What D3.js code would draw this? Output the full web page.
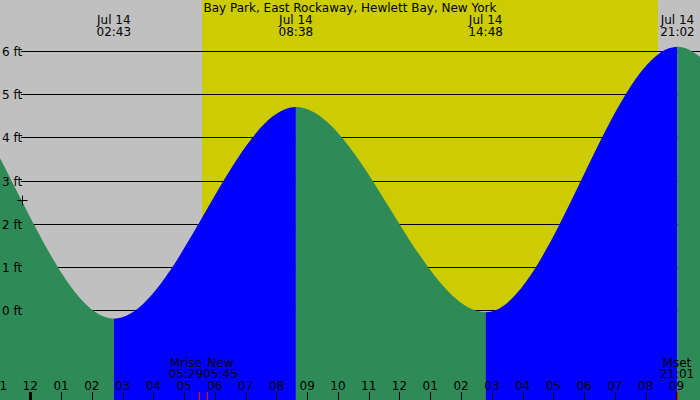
<!DOCTYPE html>
<html>
<head>
<meta charset="utf-8">
<script src="https://cdn.jsdelivr.net/npm/d3@7"></script>
<style>
  body { margin: 0; }
  svg { display: block; }
  text { font-family: "DejaVu Sans", sans-serif; font-size: 12px; fill: #000; }
</style>
</head>
<body>
<div id="chart"></div>
<script>
// data
var title = "Bay Park, East Rockaway, Hewlett Bay, New York";
// high / low tides (first two and last two are off-screen estimates)
var tideTimes = ["2024-07-13 14:05", "2024-07-13 20:25", "2024-07-14 02:43", "2024-07-14 08:38",
                 "2024-07-14 14:48", "2024-07-14 21:02", "2024-07-15 03:20", "2024-07-15 09:30"];
var tideHeights = [-0.1, 5.7, -0.2, 4.7, -0.05, 6.1, -0.3, 4.8];
var sunTimes = ["2024-07-14 05:35", "2024-07-14 20:24"];
var moonNames = ["Mrise", "New", "Mset"];
var moonTimes = ["2024-07-14 05:29", "2024-07-14 05:45", "2024-07-14 21:01"];
var heightTicks = [0, 1, 2, 3, 4, 5, 6];
var viewRange = ["2024-07-13 23:01", "2024-07-14 21:46"];
var markerTime = "2024-07-13 23:44", markerHeight = 2.55;

var width = 700, height = 400;
var parse = d3.timeParse("%Y-%m-%d %H:%M");
var fmtDay = d3.timeFormat("%b %d"), fmtHM = d3.timeFormat("%H:%M"), fmtHour = d3.timeFormat("%I");

var tides = tideTimes.map(function(t, i) { return {date: parse(t), h: tideHeights[i]}; });
var start = parse(viewRange[0]), end = parse(viewRange[1]);

var x = d3.scaleTime().domain([start, end]).range([0, width]);
var y = d3.scaleLinear().domain([0, 6]).range([310, 51]);

var svg = d3.select("#chart").append("svg")
    .attr("width", width)
    .attr("height", height);

// night / day background
svg.append("rect").attr("width", width).attr("height", height).attr("fill", "#c0c0c0");
svg.append("rect")
    .attr("x", x(parse(sunTimes[0])))
    .attr("width", x(parse(sunTimes[1])) - x(parse(sunTimes[0])))
    .attr("height", height)
    .attr("fill", "#cccc00");

// foot lines
svg.append("g").selectAll("line")
    .data(heightTicks)
    .enter().append("line")
    .attr("x1", 21).attr("x2", width)
    .attr("y1", function(d) { return Math.round(y(d)) + 0.5; })
    .attr("y2", function(d) { return Math.round(y(d)) + 0.5; })
    .attr("stroke", "#000");

// tide area, cut into rising (blue) and falling (green) pieces
var area = d3.area()
    .x(function(d) { return x(d.date); })
    .y0(height)
    .y1(function(d) { return y(d.h); })
    .curve(d3.curveMonotoneX);

var defs = svg.append("defs");
tides.slice(0, -1).forEach(function(d, i) {
    var next = tides[i + 1];
    defs.append("clipPath").attr("id", "seg" + i)
        .append("rect")
        .attr("x", x(d.date))
        .attr("width", x(next.date) - x(d.date))
        .attr("y", 0).attr("height", height);
    svg.append("path")
        .datum(tides)
        .attr("d", area)
        .attr("clip-path", "url(#seg" + i + ")")
        .attr("fill", next.h > d.h ? "#0000ff" : "#2e8b57");
});

// foot labels
svg.append("g").selectAll("text")
    .data(heightTicks)
    .enter().append("text")
    .attr("x", 2)
    .attr("y", function(d) { return y(d) + 5; })
    .text(function(d) { return d + " ft"; });

// tide time labels at top
var shown = tides.filter(function(d) { return d.date >= start && d.date <= end; });
var tideLabels = svg.append("g").selectAll("text")
    .data(shown)
    .enter().append("text")
    .attr("text-anchor", "middle");
tideLabels.append("tspan").attr("x", function(d) { return x(d.date); }).attr("y", 24).text(function(d) { return fmtDay(d.date); });
tideLabels.append("tspan").attr("x", function(d) { return x(d.date); }).attr("y", 36).text(function(d) { return fmtHM(d.date); });

svg.append("text")
    .attr("x", width / 2).attr("y", 12)
    .attr("text-anchor", "middle")
    .text(title);

// hour axis at bottom
var hours = d3.timeHour.range(d3.timeHour.floor(start), end);
var ax = svg.append("g");
ax.selectAll("line")
    .data(hours)
    .enter().append("line")
    .attr("x1", function(d) { return Math.round(x(d)) + 0.5; })
    .attr("x2", function(d) { return Math.round(x(d)) + 0.5; })
    .attr("y1", 392).attr("y2", height)
    .attr("stroke", "#000")
    .attr("stroke-width", function(d) { return d.getHours() === 0 ? 3 : 1; });
ax.selectAll("text")
    .data(hours)
    .enter().append("text")
    .attr("x", function(d) { return x(d); })
    .attr("y", 390)
    .attr("text-anchor", "middle")
    .text(function(d) { return fmtHour(d); });

// moon events
var moon = moonTimes.map(function(t, i) { return {date: parse(t), name: moonNames[i]}; });
svg.append("g").selectAll("line")
    .data(moon)
    .enter().append("line")
    .attr("x1", function(d) { return Math.round(x(d.date)) + 0.5; })
    .attr("x2", function(d) { return Math.round(x(d.date)) + 0.5; })
    .attr("y1", 392).attr("y2", height)
    .attr("stroke", "#ff0000");

// labels: events close together are pushed apart so their times just touch
moon.forEach(function(d, i) {
    var px = x(d.date);
    var prev = moon[i - 1], next = moon[i + 1];
    var g = svg.append("g");
    var name = g.append("text").attr("text-anchor", "middle").attr("y", 367).text(d.name);
    var time = g.append("text").attr("text-anchor", "middle").attr("y", 378).text(fmtHM(d.date));
    var w = time.node().getComputedTextLength();
    if (next && x(next.date) - px < 40) px = (px + x(next.date)) / 2 - w / 2;
    else if (prev && px - x(prev.date) < 40) px = (px + x(prev.date)) / 2 + w / 2;
    name.attr("x", px);
    time.attr("x", px);
});

// marker
var mx = Math.round(x(parse(markerTime))) + 0.5, my = Math.round(y(markerHeight)) + 0.5;
svg.append("path")
    .attr("d", "M" + (mx - 5) + "," + my + "H" + (mx + 5) + "M" + mx + "," + (my - 5) + "V" + (my + 5))
    .attr("stroke", "#000");
</script>
</body>
</html>
